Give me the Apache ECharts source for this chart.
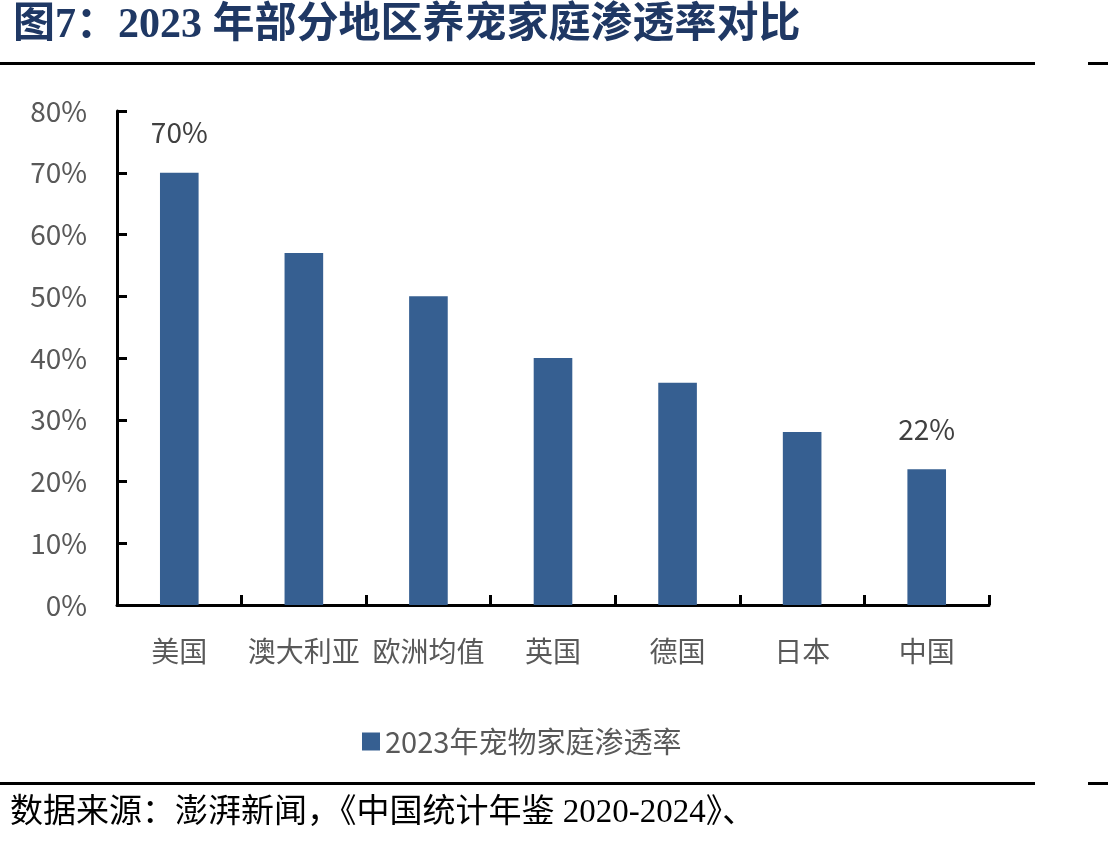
<!DOCTYPE html>
<html>
<head>
<meta charset="utf-8">
<script src="https://cdn.jsdelivr.net/npm/echarts@6/dist/echarts.min.js"></script>
<style>
  html, body { margin: 0; padding: 0; background: #fff; }
  #chart { width: 1108px; height: 853px; }
</style>
</head>
<body>
<div id="chart"></div>
<script>
  var myChart = echarts.init(document.getElementById('chart'));

  var area = ['美国', '澳大利亚', '欧洲均值', '英国', '德国', '日本', '中国'];
  var rate = [70, 57, 50, 40, 36, 28, 22];
  var showLabel = [true, false, false, false, false, false, true];
  var seriesName = '2023年宠物家庭渗透率';

  var barData = [];
  for (var i = 0; i < rate.length; i++) {
    barData.push({
      value: rate[i],
      label: { show: showLabel[i] }
    });
  }

  var serif = '"Liberation Serif", "Noto Sans CJK SC", serif';
  var sans = '"Noto Sans CJK SC", "Noto Sans", sans-serif';

  myChart.setOption({
    animation: false,
    backgroundColor: '#fff',
    color: ['#365F91'],
    title: {
      text: '图7：2023 年部分地区养宠家庭渗透率对比',
      left: 8,
      top: 0,
      textStyle: { fontFamily: serif, fontSize: 42, fontWeight: 'bold', color: '#1F3864' }
    },
    graphic: [
      { type: 'rect', shape: { x: 0, y: 62, width: 1035, height: 3 }, style: { fill: '#000' } },
      { type: 'rect', shape: { x: 1088, y: 62, width: 20, height: 3 }, style: { fill: '#000' } },
      { type: 'rect', shape: { x: 0, y: 782, width: 1035, height: 3 }, style: { fill: '#000' } },
      { type: 'rect', shape: { x: 1088, y: 782, width: 20, height: 3 }, style: { fill: '#000' } },
      {
        type: 'text', left: 10, top: 797,
        style: { text: '数据来源：澎湃新闻，《中国统计年鉴 2020-2024》、', font: '33px ' + serif, fill: '#000' }
      }
    ],
    legend: {
      data: [seriesName],
      bottom: 92,
      left: 357,
      icon: 'rect',
      itemWidth: 18,
      itemHeight: 18,
      itemGap: 10,
      textStyle: { fontFamily: sans, fontSize: 29, color: '#595959' }
    },
    grid: { left: 117, right: 119, top: 111, bottom: 248, containLabel: false },
    xAxis: {
      type: 'category',
      data: area,
      axisLine: { lineStyle: { color: '#000', width: 3 } },
      axisTick: { show: true, inside: true, length: 10, lineStyle: { color: '#000', width: 3 } },
      axisLabel: { interval: 0, fontFamily: sans, fontSize: 28, color: '#595959', margin: 32 }
    },
    yAxis: {
      type: 'value',
      min: 0,
      max: 80,
      interval: 10,
      axisLine: { show: true, lineStyle: { color: '#000', width: 3 } },
      axisTick: { show: true, inside: true, length: 10, lineStyle: { color: '#000', width: 3 } },
      splitLine: { show: false },
      axisLabel: { formatter: '{value}%', fontFamily: sans, fontSize: 28, color: '#595959', margin: 30 }
    },
    series: [
      {
        name: seriesName,
        type: 'bar',
        barWidth: '31%',
        data: barData,
        label: {
          position: 'top',
          distance: 26,
          formatter: '{c}%',
          fontFamily: sans,
          fontSize: 28,
          color: '#404040'
        }
      }
    ]
  });
</script>
</body>
</html>
